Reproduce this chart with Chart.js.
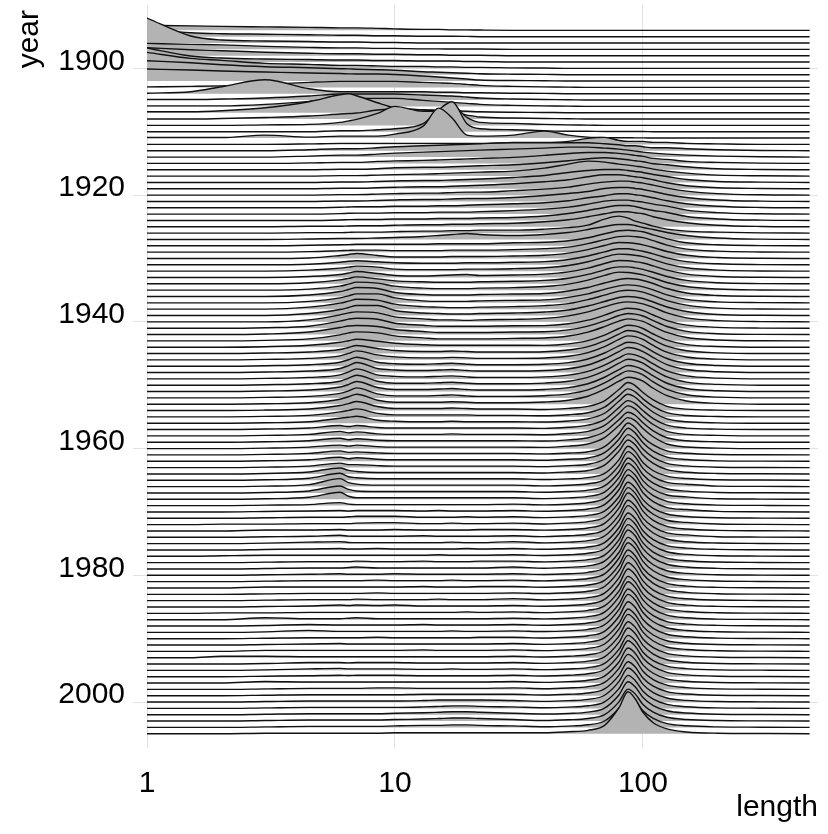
<!DOCTYPE html>
<html>
<head>
<meta charset="utf-8">
<title>Movie lengths by year</title>
<script src="https://cdn.jsdelivr.net/npm/chart.js@4.4.1/dist/chart.umd.min.js"></script>
<style>
  html, body { margin: 0; padding: 0; background: #fff; }
  canvas { display: block; }
</style>
</head>
<body>
<canvas id="ridges" width="828" height="834"></canvas>
<script>
// length grid (minutes) shared by every ridge
const lengths = [1, 1.5, 2, 3, 4.5, 6, 6.5, 7, 8.5, 10, 13, 15, 17, 19.5, 22, 30,
                 40, 50, 60, 70, 80, 87, 93, 100, 110, 125, 150, 200, 300, 470];
const lengthTicks = [1, 10, 100];
const yearTicks = [1900, 1920, 1940, 1960, 1980, 2000];
const firstYear = 1894;

// ridge heights, one row per year
const dens1890s = [
  [5,4.5,4,3.5,3,2.5,2.5,2.5,2,1.5,1,1,0.5,0.5,0.3,0, 0,0,0,0,0,0,0,0,0,0,0,0,0,0],
  [8,4,3,2.5,2,1.5,1.5,1.5,1,1,0.5,0.5,0.5,0.3,0,0, 0,0,0,0,0,0,0,0,0,0,0,0,0,0],
  [25,7,3,2,1.5,1,1,1,0.5,0.5,0,0,0,0,0,0, 0,0,0,0,0,0,0,0,0,0,0,0,0,0],
  [6,5,4.5,3,2,1.5,1.5,1.5,1,1,0.5,0.5,0.3,0.3,0.3,0, 0,0,0,0,0,0,0,0,0,0,0,0,0,0],
  [8,6,5,3.5,2.5,2,2,2,1.5,1.5,1,1,0.5,0.5,0.5,0, 0,0,0,0,0,0,0,0,0,0,0,0,0,0],
  [14,6,4,3,2.5,2,2,2,1.5,1.5,1,1,1,0.5,0.5,0, 0,0,0,0,0,0,0,0,0,0,0,0,0,0]
];
const dens1900s = [
  [16,10,8,5,4,3,3,3,2.5,2,2,1.5,1.5,1,1,0.5, 0.3,0,0,0,0,0,0,0,0,0,0,0,0,0],
  [14,12,10,8,7,6,5.8,5.5,5,4.5,3,2.5,2,1.5,1,0.5, 0.3,0,0,0,0,0,0,0,0,0,0,0,0,0],
  [12,11,10,9,8,7.5,7.2,7,7,6.5,5,4,3,2,1,0.5, 0.3,0,0,0,0,0,0,0,0,0,0,0,0,0],
  [0.5,1,1.5,3,5,6,6,6,6,6,5,4.5,4,3,2,1, 0.5,0.3,0,0,0,0,0,0,0,0,0,0,0,0],
  [0.5,2,7,14,5,2,2,2,2,2,2,1.5,1.5,1,1,0.5, 0.3,0,0,0,0,0,0,0,0,0,0,0,0,0],
  [0.5,0.5,1,2,4,6,6,6,6,6,5,4.5,4,3,2,1, 0.5,0.3,0,0,0,0,0,0,0,0,0,0,0,0],
  [0.5,0.5,0.5,2,5,8,8,8,8,8,6,5,4,3,2,1, 0.5,0.3,0,0,0,0,0,0,0,0,0,0,0,0],
  [1,1,2,5,11,18,19,17,10,5,3,2.5,2,1.5,1,0.5, 0.3,0,0,0,0,0,0,0,0,0,0,0,0,0],
  [0,0,0.5,1.5,3,5,5.5,6,9,10,9,8,7,4,2,1, 0.5,0.3,0,0,0,0,0,0,0,0,0,0,0,0],
  [0,0,0,0.5,1,3,4.5,6,12,19,14,14,20,8,3,2, 1,0.5,0.3,0,0,0,0,0,0,0,0,0,0,0]
];
const dens1910s = [
  [0,0,0,0,0,1,1,1,2,3,8,22,30,8,3,2, 1,0.5,0.5,0.3,0.3,0.3,0.2,0.2,0,0,0,0,0,0],
  [0.5,0.5,0.5,3,1,2,2,2,2,4,12,30,20,3,2,3, 7,3,1,0.5,0.3,0.3,0.2,0.2,0,0,0,0,0,0],
  [0,0,0,0,0.5,1,1,1,1,1,1,1,1,1,1,2, 2,3,6,7,4,3,3,3,2,2,1,0.5,0,0],
  [0,0,0,0,1,2,2,2,3,4,5,5.5,6,6.5,7,8, 8,8,8,7,6,5,5,4,3,3,2,1,0.3,0],
  [0,0,0,0,1,2,2,2,3,4,5,5.5,6,6.5,7,8, 9,10,10,9,8,7,6,5,4,3,2,1,0.3,0],
  [0,0,0,0,0.5,1,1,1,2,2.5,3,3.5,4,4.5,5,6, 8,10,11,11,10,9,8,7,5,4,2,1,0.3,0],
  [0,0,0,0,0,0.5,0.5,0.5,1,2,2.5,2.5,3,3.5,4,5, 7,9,11,12,11,10,9,8,6,5,3,1,0.3,0],
  [0,0,0,0,0,0.5,0.5,0.5,1,1.5,2,2.5,3,3.5,4,5, 8,12,15,14,12,11,10,9,7,5,3,1,0.3,0],
  [0,0,0,0,0,0.5,0.5,0.5,1,1.5,2,2,2.5,3,3.5,5, 7,10,12,13,13,12,11,10,8,6,3,1,0.3,0],
  [0,0,0,0,0,0.5,0.5,0.5,1,1.5,2,2,2.5,3,3.5,5, 7,9,12,14,14,13,12,11,9,6,3,1,0.3,0]
];
const dens1920s = [
  [0,0,0,0,0,0.5,0.5,0.5,1,1.5,2,2,2.5,3,3,4.5, 6,8,11,13,14,14,13,12,10,7,4,1.5,0.3,0],
  [0,0,0,0,0,0.5,0.5,0.5,1,1.5,2,2,2.5,3,3,4, 6,8,10,13,14,14,13,12,10,7,4,1.5,0.3,0],
  [0,0,0,0,0,0.5,0.8,1,1,1.5,1.5,2,2,2.5,3,4, 5,7,10,12,14,14,13,12,10,7,4,1.5,0.3,0],
  [0,0,0,0,0,0.5,0.8,1,1,1.5,1.5,2,2,2,2.5,3.5, 5,7,10,13,14,14,13,12,10,8,4,1.5,0.3,0],
  [0,0,0,0,0,0.5,0.8,1,1,1.5,1.5,2,2,2,2.5,3, 4.5,7,10,13,15,15,14,12,10,8,4,1.5,0.3,0],
  [0,0,0,0,0.5,0.5,0.8,1,1,1.5,2,2,2.5,2.5,3,3.5, 5,7,10,13,15,15,14,13,10,7,4,1.5,0.3,0],
  [0,0,0,0,0.5,0.5,0.8,1,1,1.5,2,2,2.5,2.5,3,3, 4,5.5,8,14,17,15,12,10,7,4,2,1,0.3,0],
  [0,0,0,0,0.5,1,1,1,1.5,2,3,4,5,6,5,4, 5,7,10,13,15,15,14,12,10,7,4,1.5,0.3,0],
  [0,0,0,0,0.5,1,1.2,1.5,1.5,1.5,1.5,2,2,2,2,3, 3.5,5,8,12,15,15.5,15,14,11,7,3,1,0.2,0],
  [0,0,0,0,0.5,1.5,1.8,2,2,1.5,1.5,1.5,2,2,2,2.5, 3.5,5,8.5,12.5,15.5,16,15.5,14.5,11.5,7,3,1,0.2,0]
];
const dens1930s = [
  [0,0,0,0,0.5,3,4,5,3,1.5,1.5,1.5,2,2,2,2.5, 3.2,5.3,8.8,13,16,15.7,15,13.6,11,7,3.2,1,0.2,0],
  [0,0,0,0,0.5,2.5,3.5,4,3,2,1.5,1.5,1.5,2,2,2.5, 3.2,5.3,8.8,13,16,16,15,13.6,11,7,3.2,1,0.2,0],
  [0,0,0,0,1,3,4,5,4,2,1.5,1.5,1.5,2,2,2.5, 3.4,5.6,9.4,14,17,16.7,15.8,14.5,11.6,7.3,3.4,1,0.2,0],
  [0,0,0,0,1,3,4.5,6,4,2,1.5,2,2.5,3,2,2.5, 3.4,5.6,9.4,14,17,16.7,15.8,14.5,11.6,7.3,3.4,1,0.2,0],
  [0,0,0,0,1,4,5.5,7,5,3,2,1.5,1.5,1.5,2,2.5, 3.4,5.6,9.4,14,17,17,16,14.5,11.6,7.3,3.4,1,0.2,0],
  [0,0,0,0,1,4,6,8,7,4,2,1.5,1.5,1.5,2,2.5, 3.6,6,10,14.8,18,17.6,16.7,15.3,12.2,7.7,3.6,1.1,0.2,0],
  [0,0,0,0,1.5,5,7,9,8,4,2,1.5,1.5,1.5,2,2.5, 3,5.5,9,13.5,17,18,17.5,16,13,8,3.5,1,0.2,0],
  [0,0,0,0,1.5,5,7,9,9,5,2,1.5,1.5,1.5,2,2.5, 3,5.5,9,13.5,17,18,17.5,16,13,8,3.5,1,0.2,0],
  [0,0,0,0,2,6,8,10,9,5,2.5,2,1.5,1.5,2,2.5, 3.5,5.5,9.5,14,18,19,18.5,17,13.5,8.5,4,1,0.2,0],
  [0,0,0,0,2,6,8,10,10,5,2.5,2,1.5,1.5,2,2.5, 3.5,5.5,9.5,14,18,19,18.5,17,13.5,8.5,4,1,0.2,0]
];
const dens1940s = [
  [0,0,0,0,2,7,9,10,9,5,3,2,2,1.5,2,2.5, 3.5,6,10,15,19,20,19.5,18,14.5,9,4,1.2,0.2,0],
  [0,0,0,0.5,2,7,9,10,9,5,3,2,2,2,2,2.5, 2.6,4.4,8,13,18,20,19.4,17.6,13.2,7.6,3,0.8,0.1,0],
  [0,0,0,0.5,2.5,7,8.5,9,8,5,3,2,2,2,2,2.5, 2.7,4.6,8.4,13.6,19,21,20.4,18.5,13.9,8,3.2,0.8,0.1,0],
  [0,0,0,0.5,2,6,8,9,8,5,3,2,2,2,2,2.5, 2.9,4.8,8.8,14.3,19.8,22,21.3,19.4,14.5,8.4,3.3,0.9,0.1,0],
  [0,0,0,0.5,2,5,6.5,8,6,4,2.5,2,2,2,2,2, 1.8,3.3,6.6,12,18.7,22,21.3,18.7,13.2,7,2.6,0.7,0,0],
  [0,0,0,0.5,1.5,4,6,8,5,3,2,2,2.5,2,1.5,1.5, 1.8,3.5,6.9,12.7,19.5,23,22.3,19.5,13.8,7.4,2.8,0.7,0,0],
  [0,0,0,0.5,1.5,4,6.5,9,5,3,2,2,2.5,2,1.5,1.5, 1.9,3.6,7.2,13.2,20.4,24,23.3,20.4,14.4,7.7,2.9,0.7,0,0],
  [0,0,0,0.5,1.5,4,6.5,9,4,2.5,2,2.5,3,2,1.5,1.5, 1.9,3.6,7.2,13.2,20.4,24,23.3,20.4,14.4,7.7,2.9,0.7,0,0],
  [0,0,0,0.5,1.5,4,7,10,4,2.5,2,2.5,3,2,1.5,1.5, 2,3.8,7.5,13.8,21,25,24,21,15,8,3,0.8,0,0],
  [0,0,0,0.5,1.5,4,7,10,4,2.5,2,2.5,3,2,1.5,1.5, 2,3.8,7.5,13.8,21,25,24,21,15,8,3,0.8,0,0]
];
const dens1950s = [
  [0,0,0,0.5,1.5,4,7,10,4,2,2,2.5,3,2,1.5,1.5, 2.1,3.9,7.8,14.3,22,26,25,22,15.6,8.3,3.1,0.8,0,0],
  [0,0,0,0.5,1.5,4.5,7,10,4,2,2,2.5,3,2,1.5,1.5, 2.1,3.9,7.8,14.3,22,26,25,22,15.6,8.3,3.1,0.8,0,0],
  [0,0,0,0.5,1.5,4.5,7,10,4,2,2,2.5,3,2,1.5,1.5, 2.2,4,8,15,23,27,26,23,16,8.6,3.2,0.8,0,0],
  [0,0,0,0.5,1.5,5,7.5,10,4,2,2,2,2.5,2,1.5,1.5, 2.2,4,8,15,23,27,26,23,16,8.6,3.2,0.8,0,0],
  [0,0,0,0.5,1.5,5,7,9,4,2,2,2,2.5,2,1.5,1.5, 1.1,2.2,4.2,9.8,21,28,25,18,10.6,4.2,1.4,0.4,0,0],
  [0,0,0,0.5,1.5,5,6.5,8,3.5,2,2,2,2,2,1.5,1.5, 1.1,2.2,4.2,9.8,21,28,25,18,10.6,4.2,1.4,0.4,0,0],
  [0,0,0,0.5,1.5,5,6,7,3,2,1.5,1.5,2,1.5,1.5,1.5, 1.2,2.3,4.4,10,22,29,26,19,11,4.4,1.5,0.4,0,0],
  [0,0,0,0.5,1.5,4,3,4,2,1.5,1.5,1.5,1.5,1.5,1.5,1.5, 1.2,2.3,4.4,10,22,29,26,19,11,4.4,1.5,0.4,0,0],
  [0,0,0,0.5,1.5,4.5,3,4,2,1.5,1.5,1.5,2,1.5,1.5,1.5, 1.2,2.4,4.5,10.5,22.5,30,27,19.5,11.4,4.5,1.5,0.5,0,0],
  [0,0,0,0.5,1.5,4,2.5,3.5,2,1.5,1.5,1.5,1.5,1.5,1.5,1.5, 1.2,2.4,4.5,10.5,22.5,30,27,19.5,11.4,4.5,1.5,0.5,0,0]
];
const dens1960s = [
  [0,0,0,0.5,1.5,3.5,2.5,3.5,2,1.5,1.5,1.5,1.5,1.5,1.5,1.5, 1.2,2.5,4.6,11,23,31,28,20,11.8,4.6,1.6,0.5,0,0],
  [0,0,0,0.5,1.5,4,2.5,3,2,1.5,1.5,1.5,1.5,1.5,1.5,1.5, 1,1.9,3.2,8.3,21.4,32,27.5,17.9,10,4,1.6,0.4,0.1,0],
  [0,0,0,0.5,1.5,4,2.5,3.5,2,1.5,1.5,1.5,1.5,1.5,1.5,1.5, 1,2,3.3,8.6,22,33,28.4,18.5,10.2,4.2,1.7,0.4,0.1,0],
  [0,0,0,0.5,1.5,4.5,3,3,2,1.5,1.5,1.5,1.5,1.5,1.5,1.5, 1,2,3.3,8.6,22,33,28.4,18.5,10.2,4.2,1.7,0.4,0.1,0],
  [0,0,0,0.5,2,6,3.5,2.5,1.5,1.5,1.5,1.5,1.5,1.5,1.5,1.5, 1,2,3.4,8.8,22.8,34,29.2,19,10.5,4.3,1.7,0.5,0.2,0],
  [0,0,0,0.5,2,7,3.5,2.5,1.5,1.5,1.5,1.5,1.5,1.5,1.5,1.5, 0.7,1.4,2.7,6.8,20.4,34,28.9,17.7,9.5,4.1,1.7,0.5,0.2,0],
  [0,0,0,0.5,2,8,4,2.5,1.5,1.5,1.5,1.5,1.5,1.5,1.5,1.5, 0.7,1.4,2.8,7,21,35,29.8,18.2,9.8,4.2,2.4,0.5,0.2,0],
  [0,0,0,0.5,2,7,3.5,2,1.5,1.5,1.5,1.5,1.5,1.5,1.5,1.5, 0.7,1.4,2.8,7,21,35,29.8,18.2,9.8,4.2,1.8,0.5,0.2,0],
  [0,0,0,0.5,2,7,3,1.5,1.5,1.5,1.5,1.5,1.5,1.5,1.5,1.5, 0.7,1.4,2.9,7.2,21.6,36,30.6,18.7,10,4.3,2.4,0.5,0.2,0],
  [0,0,0,0.5,1,3,1.5,1,1,1,1,1,1,1,1,1.5, 0.7,1.4,2.9,7.2,21.6,36,30.6,18.7,10,4.3,1.8,0.5,0.2,0]
];
const dens1970s = [
  [0,0,0,0.5,1,1.5,1,1.5,1.5,1.5,1,1.5,1,1,1,1.5, 0.7,1.5,3,7.4,22.2,37,31.5,19.2,10.4,4.4,2.4,0.6,0.2,0],
  [0,0,0,0.5,1,1,1.5,2,2,2,1,1,1,1.5,1,1.5, 0.7,1.4,2.9,7.2,21.6,36,30.6,18.7,10,4.3,1.8,0.5,0.2,0],
  [0,0,0.5,0.5,1,1,1,1.5,2,2,1,1,1.5,1,1,1.5, 0.7,1.5,3,7.4,22.2,37,31.5,19.2,10.4,4.4,2.2,0.6,0.2,0],
  [0,0,0,1,1,1.5,1,1,1,1.5,1,1,1,1,1.5,1.5, 0.8,1.5,3,7.6,22.8,38,32.3,19.8,10.6,4.6,1.9,0.6,0.2,0],
  [0,0,0,0.5,1,2,1.2,1,1,1,1.5,1,1,1,1,1.5, 0.7,1.5,3,7.4,22.2,37,31.5,19.2,10.4,4.4,2.4,0.6,0.2,0],
  [0,0,0,0.5,1.5,2,1.2,1,1,1,1,1,1.5,1,1,2, 0.8,1.5,3,7.6,22.8,38,32.3,19.8,10.6,4.6,1.9,0.6,0.2,0],
  [0,0,0,0.5,1,1.5,1,1,1.5,1,1,1,1,1.5,1,1.5, 0.7,1.5,3,7.4,22.2,37,31.5,19.2,10.4,4.4,1.9,0.6,0.2,0],
  [0,0,0.5,1,1,1,1,1,1,1,1,1.5,1,1,1,1.5, 0.8,1.5,3,7.6,22.8,38,32.3,19.8,10.6,4.6,1.9,0.6,0.2,0],
  [0,0,0,0.5,1,1,1,1.5,1,1,1.5,1,1,1,1.5,1.5, 0.8,1.5,3,7.6,22.8,38,32.3,19.8,10.6,4.6,1.9,0.6,0.2,0],
  [0,0,0,0.5,1,1,1.5,2,1,1,1,1,1,1,1,2, 0.8,1.6,3.1,7.8,23.4,39,33.2,20.3,10.9,4.7,2,0.6,0.2,0]
];
const dens1980s = [
  [0,0,0,0.5,1,1.5,1,1,1,1.5,1,1,1,1,1,1.5, 0.8,1.5,3,7.6,22.8,38,32.3,19.8,10.6,4.6,1.9,0.6,0.2,0],
  [0,0,0,0.5,1,1,1,1,1.5,1,1,1,1.5,1,1,1.5, 0.8,1.6,3.1,7.8,23.4,39,33.2,20.3,10.9,4.7,2,0.6,0.2,0],
  [0,0,0,1,1,1,1,1,1,1,1.5,1,1,1,1.5,1.5, 0.8,1.5,3,7.6,22.8,38,32.3,19.8,10.6,4.6,1.9,0.6,0.2,0],
  [0,0,0,0.5,1,1,1,1,1.5,1,1,1,1,1,1,1.5, 0.8,1.6,3.1,7.8,23.4,39,33.2,20.3,10.9,4.7,2,0.6,0.2,0],
  [0,0,0,0.5,1,1,1,1.5,1,1,1,1.5,1,1,1,2, 0.8,1.5,3,7.6,22.8,38,32.3,19.8,10.6,4.6,1.9,0.6,0.2,0],
  [0,0,0,0.5,1,2,1.5,2,1.5,2,1,1,1,1,1,1.5, 0.8,1.5,3,7.6,22.8,38,32.3,19.8,10.6,4.6,1.9,0.6,0.2,0],
  [0,0,0.5,0.5,1,1,1,1,1,1,1,1,1,1.5,1,1.5, 0.7,1.5,3,7.4,22.2,37,31.5,19.2,10.4,4.4,1.9,0.6,0.2,0],
  [0,0,0,2,1,1,1.5,2,1,1,1,1,1,1,1,1.5, 0.8,1.5,3,7.6,22.8,38,32.3,19.8,10.6,4.6,1.9,0.6,0.2,0],
  [0,0,0,0.5,1.5,1,1,1,1,1,1.5,1,1,1,1,1.5, 0.7,1.5,3,7.4,22.2,37,31.5,19.2,10.4,4.4,1.9,0.6,0.2,0],
  [0,0,0,0.5,2,1,1,1,1,1,1,1,1.5,1,1,1.5, 0.8,1.5,3,7.6,22.8,38,32.3,19.8,10.6,4.6,1.9,0.6,0.2,0]
];
const dens1990s = [
  [0,0,0,0.5,1,1,1,1,1.5,1,1,1,1,1,1.5,1.5, 0.7,1.5,3,7.4,22.2,37,31.5,19.2,10.4,4.4,1.9,0.6,0.2,0],
  [0,0,0,0.5,1,1.5,1,1,1,1,1,1,1,1,1,1.5, 0.7,1.4,2.9,7.2,21.6,36,30.6,18.7,10,4.3,1.8,0.5,0.2,0],
  [0,0,0,1,1,1,1,1,1,1,1.5,1,1,1,1,1.5, 0.7,1.5,3,7.4,22.2,37,31.5,19.2,10.4,4.4,1.9,0.6,0.2,0],
  [0,0,1.5,1.5,1,1,1,1,1,1,1,1,1,1,1,1.5, 0.7,1.4,2.9,7.2,21.6,36,30.6,18.7,10,4.3,1.8,0.5,0.2,0],
  [0,0,0,0.5,1.5,1.5,1.2,1.5,1.5,1.5,1,1,1,1,1,1.5, 0.7,1.4,2.9,7.2,21.6,36,30.6,18.7,10,4.3,1.8,0.5,0.2,0],
  [0,0,0,0.5,1.5,2,1.5,1.5,1.5,1.5,1,1,1.5,1,1,1.5, 0.7,1.4,2.8,7,21,35,29.8,18.2,9.8,4.2,1.8,0.5,0.2,0],
  [0,0,0,0.5,1,1.5,1.2,1.5,1.5,1.5,1,1,1,1,1,1.5, 0.7,1.4,2.9,7.2,21.6,36,30.6,18.7,10,4.3,1.8,0.5,0.2,0],
  [0,0,0,1.5,1,1,1,1,1,1,1,1,1,1,1,1.5, 0.7,1.4,2.8,7,21,35,29.8,18.2,9.8,4.2,1.8,0.5,0.2,0],
  [0,0,0,0.5,1,1,1,1,1.5,1.5,1,1,1,1,1,1.5, 0.7,1.4,2.8,7,21,35,29.8,18.2,9.8,4.2,1.8,0.5,0.2,0],
  [0,0,0,0.5,1,1,1,1,1,1,1.5,1.5,1.5,1.5,1.5,1.5, 0.7,1.4,2.7,6.8,20.4,34,28.9,17.7,9.5,4.1,1.7,0.5,0.2,0]
];
const dens2000s = [
  [0,0,0,0.5,1,1,1,1,1,1,1.5,2,2,2,2,1.5, 0.7,1.4,2.7,6.8,20.4,34,28.9,17.7,9.5,4.1,1.7,0.5,0.2,0],
  [0,0,0,0.5,1,1,1,1,1,1,1.5,2,2.5,2.5,2,1.5, 0.7,1.3,2.6,6.6,19.8,33,28,17.2,9.2,4,1.7,0.5,0.2,0],
  [0,0,0,0.5,1,1,1,1,1,1.5,2,2.5,3,3,2.5,1.5, 0.7,1.3,2.6,6.6,19.8,33,28,17.2,9.2,4,1.7,0.5,0.2,0],
  [0,0,0,0.5,1,1,1,1,1,1.5,2,2.5,3,3,2.5,1.5, 0.6,1.3,2.6,6.4,19.2,32,27.2,16.6,9,3.8,1.6,0.5,0.2,0],
  [0,0,0,0.5,1,1,1,1,1,1.5,2,2,2.5,2.5,2,1.5, 0.6,1.3,2.6,6.4,19.2,32,27.2,16.6,9,3.8,1.6,0.5,0.2,0],
  [0,0,0,0.5,0.5,0.5,0.5,0.5,0.5,1,1,1,1,1,1,1, 1,2,3.4,8.4,26,42,35,21.5,11,4.8,1.8,0.5,0.2,0]
];

const rows = [].concat(dens1890s, dens1900s, dens1910s, dens1920s, dens1930s,
                       dens1940s, dens1950s, dens1960s, dens1970s, dens1980s,
                       dens1990s, dens2000s);

const heightScale = 1 / 6.34;   // one density unit -> fraction of a year row
const gridGrey = '#e2e2e2';
const labelFont = { family: "'Liberation Sans', Arial, sans-serif", size: 30 };

const datasets = rows.map((row, i) => {
  const year = firstYear + i;
  return {
    label: String(year),
    data: row.map((d, j) => ({ x: lengths[j], y: year - d * heightScale })),
    fill: { value: year },
    backgroundColor: '#b3b3b3',
    borderColor: '#111',
    borderWidth: 1.4,
    pointRadius: 0,
    cubicInterpolationMode: 'monotone',
    order: -year   // later years drawn in front
  };
});

// axis titles sit at the ends of the axes, like theme_ridges
const axisTitles = {
  id: 'axisTitles',
  afterDraw(chart) {
    const { ctx, chartArea } = chart;
    ctx.save();
    ctx.fillStyle = '#000';
    ctx.font = "30px 'Liberation Sans', Arial, sans-serif";
    ctx.textAlign = 'right';
    ctx.textBaseline = 'alphabetic';
    ctx.fillText('length', chartArea.right, 816);
    ctx.translate(38, chartArea.top + 5);
    ctx.rotate(-Math.PI / 2);
    ctx.fillText('year', 0, 0);
    ctx.restore();
  }
};

// keep the panel at a fixed place: no extra room for the edge labels
function noEdgePadding(s) {
  s.paddingTop = 0;
  s.paddingBottom = 0;
  s.paddingLeft = 0;
  s.paddingRight = 0;
}

new Chart(document.getElementById('ridges'), {
  type: 'line',
  data: { datasets },
  options: {
    responsive: false,
    animation: false,
    devicePixelRatio: 1,
    layout: { padding: { top: 5, right: 10, left: 0, bottom: 0 } },
    plugins: {
      legend: { display: false },
      tooltip: { enabled: false }
    },
    scales: {
      x: {
        type: 'logarithmic',
        min: 1,
        max: 508,
        afterBuildTicks: s => { s.ticks = lengthTicks.map(v => ({ value: v })); },
        afterFit: s => { s.height = 86; noEdgePadding(s); },
        grid: { color: gridGrey, drawTicks: false },
        border: { display: false },
        ticks: { font: labelFont, color: '#000', padding: 18, maxRotation: 0, callback: v => String(v) }
      },
      y: {
        type: 'linear',
        reverse: true,
        min: 1890,
        max: 2007.25,
        afterBuildTicks: s => { s.ticks = yearTicks.map(v => ({ value: v })); },
        afterFit: s => { s.width = 147; noEdgePadding(s); },
        grid: { color: gridGrey, tickLength: 14, tickColor: gridGrey },
        border: { display: false },
        ticks: { font: labelFont, color: '#000', padding: 8, labelOffset: -7, callback: v => String(v) }
      }
    }
  },
  plugins: [axisTitles]
});
</script>
</body>
</html>
